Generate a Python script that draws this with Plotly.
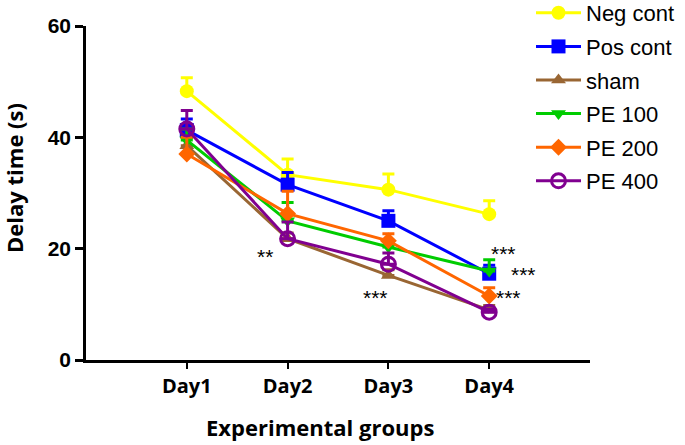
import plotly.graph_objects as go

days = ["Day1", "Day2", "Day3", "Day4"]
day_pos = [1, 2, 3, 4]

neg_cont = [48.3, 33.3, 30.6, 26.2]
neg_cont_err = [2.4, 2.8, 2.8, 2.4]
pos_cont = [41.3, 31.5, 25.0, 15.5]
pos_cont_err = [2.0, 2.2, 1.8, 1.5]
sham = [38.5, 21.8, 15.2, 9.0]
sham_err = [1.5, 1.0, 1.0, 0.8]
pe100 = [39.5, 25.0, 20.3, 16.0]
pe100_err = [2.0, 3.3, 1.2, 2.0]
pe200 = [37.0, 26.3, 21.4, 11.5]
pe200_err = [3.0, 4.0, 1.3, 1.5]
pe400 = [41.5, 21.8, 17.2, 8.6]
pe400_err = [3.3, 3.0, 2.0, 0.5]

y_ticks = [0, 20, 40, 60]

sig_text = ["**", "***", "***", "***", "***"]
sig_x = [1.78, 2.87, 4.14, 4.34, 4.19]
sig_y = [19.4, 12.0, 19.9, 16.0, 12.0]

series = [
    ("Neg cont", neg_cont, neg_cont_err, "#FFFF00", "circle", 14),
    ("Pos cont", pos_cont, pos_cont_err, "#0000FF", "square", 14),
    ("sham", sham, sham_err, "#996633", "triangle-up", 13),
    ("PE 100", pe100, pe100_err, "#00CC00", "triangle-down", 13),
    ("PE 200", pe200, pe200_err, "#FF6600", "diamond", 13),
    ("PE 400", pe400, pe400_err, "#800090", "circle-open", 14),
]

fig = go.Figure()
for name, vals, errs, color, sym, size in series:
    fig.add_trace(go.Scatter(
        x=day_pos, y=vals, name=name, mode="lines+markers", legendgroup=name,
        line=dict(color=color, width=3),
        marker=dict(color=color, symbol=sym, size=size,
                    line=dict(color=color, width=3 if sym == "circle-open" else 0)),
        error_y=dict(type="data", array=errs, arrayminus=[0] * len(errs),
                     color=color, thickness=3, width=6),
    ))

for t, x, y in zip(sig_text, sig_x, sig_y):
    fig.add_annotation(x=x, y=y, text=t, showarrow=False, yshift=-4,
                       font=dict(family="Liberation Sans", size=21, color="black"))

fig.add_annotation(xref="paper", yref="paper", x=(14 - 86) / 504, y=(360 - 178) / 334,
                   xanchor="center", yanchor="middle",
                   text="Delay time (s)", textangle=-90, showarrow=False,
                   font=dict(family="Open Sans", size=22, color="black", weight="bold"))
fig.add_annotation(xref="paper", yref="paper", x=(320 - 86) / 504, y=(360 - 427) / 334,
                   xanchor="center", yanchor="middle",
                   text="Experimental groups", showarrow=False,
                   font=dict(family="Open Sans", size=22, color="black", weight="bold"))

fig.update_layout(
    width=685, height=445,
    margin=dict(l=86, r=95, t=26, b=85, autoexpand=False),
    paper_bgcolor="white", plot_bgcolor="white",
    showlegend=True,
    legend=dict(x=(531 - 86) / 504, y=1 + (26 + 8) / 334, xanchor="left", yanchor="top",
                font=dict(family="Liberation Sans", size=22, color="black"),
                bgcolor="rgba(0,0,0,0)", itemwidth=45, tracegroupgap=2),
    xaxis=dict(range=[0, 5], tickvals=day_pos, ticktext=days,
               showline=True, linecolor="black", linewidth=2.5,
               ticks="outside", ticklen=6, tickwidth=2, tickcolor="black",
               showgrid=False, zeroline=False,
               tickfont=dict(family="Open Sans", size=20, color="black", weight="bold")),
    yaxis=dict(range=[0, 60], tickvals=y_ticks,
               showline=True, linecolor="black", linewidth=2.5,
               ticks="outside", ticklen=8, tickwidth=2.5, tickcolor="black",
               showgrid=False, zeroline=False,
               tickfont=dict(family="Liberation Sans", size=21, color="black", weight="bold")),
)

fig.write_html("out.html", config={"displayModeBar": False},
               post_script="document.body.style.margin='0px';")
